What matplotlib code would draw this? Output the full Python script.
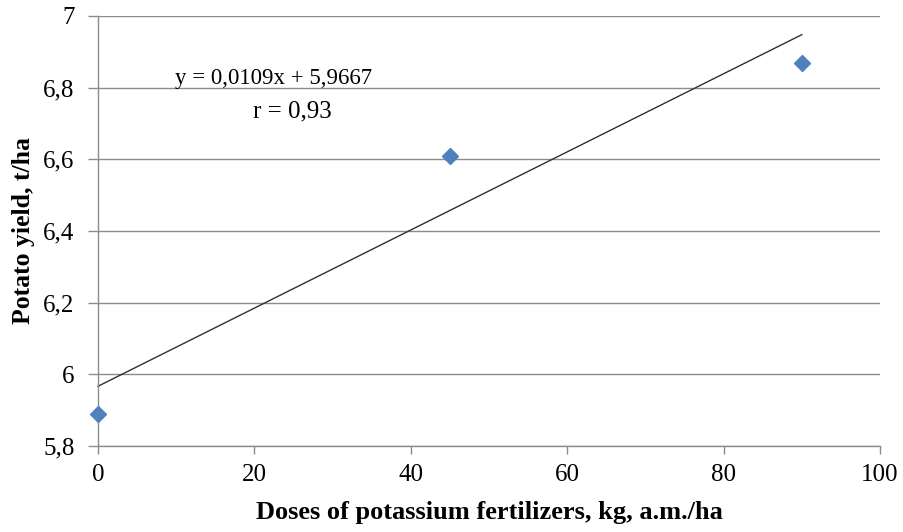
import numpy as np
import matplotlib.pyplot as plt

# data
doses = [0, 45, 90]
yields = [5.89, 6.61, 6.87]
slope = 0.0109
intercept = 5.9667
trend_x = [0, 90]
x_ticks = [0, 20, 40, 60, 80, 100]
y_ticks = [5.8, 6.0, 6.2, 6.4, 6.6, 6.8, 7.0]
y_labels = ['5,8', '6', '6,2', '6,4', '6,6', '6,8', '7']

plt.rcParams['font.family'] = ['Liberation Serif', 'DejaVu Serif']

fig = plt.figure(figsize=(9.04, 5.32), dpi=100)
ax = fig.add_axes([0.1084, 0.1617, 0.865, 0.8083])

ax.set_xlim(0, 100)
ax.set_ylim(5.8, 7.0)
ax.set_yticks(y_ticks)
ax.set_yticklabels(y_labels)
ax.set_xticks(x_ticks)
ax.grid(axis='y', color='#8c8c8c', linewidth=1)
ax.set_axisbelow(True)

for s in ['top', 'right']:
    ax.spines[s].set_visible(False)
for s in ['left', 'bottom']:
    ax.spines[s].set_color('#8c8c8c')
    ax.spines[s].set_linewidth(1)
ax.tick_params(axis='both', colors='#8c8c8c', labelcolor='black', labelsize=18, width=1)
ax.tick_params(axis='x', length=6, pad=7)
ax.tick_params(axis='y', length=7, pad=10)

tx = np.array(trend_x)
ax.plot(tx, slope * tx + intercept, color='#303030', linewidth=1.0, clip_on=False)
ax.plot(doses, yields, linestyle='none', marker='D', markersize=8,
        color='#4f81bd', clip_on=False, zorder=5)

# trendline label
ax.text(22.4, 6.81, 'y = 0,0109x + 5,9667', fontsize=16.5,
        ha='center', va='baseline')
ax.text(24.9, 6.718, 'r = 0,93', fontsize=18, ha='center', va='baseline')

ax.set_xlabel('Doses of potassium fertilizers, kg, a.m./ha', fontsize=19,
              fontweight='bold', labelpad=11)
ax.set_ylabel('Potato yield, t/ha', fontsize=18.5, fontweight='bold', labelpad=6)

fig.savefig('out.png', dpi=100)
